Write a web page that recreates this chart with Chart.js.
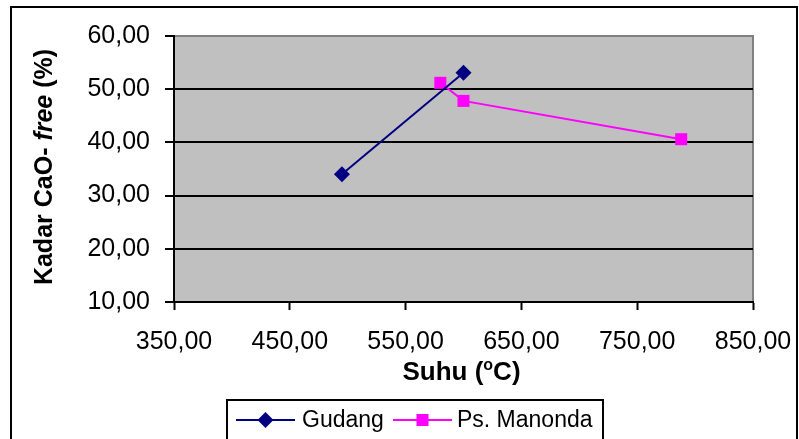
<!DOCTYPE html>
<html lang="id">
<head>
<meta charset="UTF-8">
<title>Kadar CaO-free vs Suhu</title>
<script src="https://cdn.jsdelivr.net/npm/chart.js"></script>
<style>
  body { margin: 0; padding: 0; background: #fff; }
  .chart-box { position: relative; width: 799px; height: 439px; }
</style>
</head>
<body>
<div class="chart-box"><canvas id="kadarChart"></canvas></div>
<script>
// values
var gudangSuhu = [495, 600];
var gudangKadar = [34.0, 53.1];
var manondaSuhu = [580, 600, 788];
var manondaKadar = [51.2, 47.8, 40.6];
var seriesNames = ['Gudang', 'Ps. Manonda'];
var xTicks = [350, 450, 550, 650, 750, 850];
var yTicks = [10, 20, 30, 40, 50, 60];

var FONT = '"Liberation Sans", Arial, sans-serif';

function toPoints(xs, ys) {
    return xs.map(function(x, i) { return { x: x, y: ys[i] }; });
}
function komma(v) {
    return Number(v).toFixed(2).replace('.', ',');
}

function drawMarker(ctx, style, r, x, y, color) {
    ctx.save();
    ctx.fillStyle = color;
    ctx.beginPath();
    if (style === 'rectRot') {
        ctx.moveTo(x, y - r); ctx.lineTo(x + r, y); ctx.lineTo(x, y + r); ctx.lineTo(x - r, y);
        ctx.closePath();
    } else {
        var s = r * Math.SQRT1_2;
        ctx.rect(x - s, y - s, 2 * s, 2 * s);
    }
    ctx.fill();
    ctx.restore();
}

// background, outer frame and the grey plot area
var framePlugin = {
    id: 'frame',
    beforeDraw: function(chart) {
        var ctx = chart.ctx, a = chart.chartArea;
        ctx.save();
        ctx.fillStyle = '#fff';
        ctx.fillRect(0, 0, chart.width, chart.height);
        ctx.strokeStyle = '#000';
        ctx.lineWidth = 2;
        ctx.strokeRect(11, 7, 786, 460);
        ctx.fillStyle = '#c0c0c0';
        ctx.fillRect(a.left, a.top, a.right - a.left, a.bottom - a.top);
        ctx.strokeStyle = '#808080';
        ctx.strokeRect(a.left, a.top, a.right - a.left, a.bottom - a.top);
        ctx.restore();
    },
    afterDraw: function(chart) {
        var ctx = chart.ctx, a = chart.chartArea;
        ctx.save();
        ctx.fillStyle = '#000';

        // y title, "free" in italic
        var parts = [['Kadar CaO- ', 'bold 25px '], ['free', 'italic bold 25px '], [' (%)', 'bold 25px ']];
        var total = 0;
        parts.forEach(function(p) { ctx.font = p[1] + FONT; total += ctx.measureText(p[0]).width; });
        ctx.translate(52, (a.top + a.bottom) / 2 - 2);
        ctx.rotate(-Math.PI / 2);
        ctx.textBaseline = 'alphabetic';
        var px = -total / 2;
        parts.forEach(function(p) {
            ctx.font = p[1] + FONT;
            ctx.fillText(p[0], px, 0);
            px += ctx.measureText(p[0]).width;
        });
        ctx.setTransform(1, 0, 0, 1, 0, 0);

        // x title with superscript o
        var xs = [['Suhu (', 'bold 26px ', 0], ['o', 'bold 16px ', -10], ['C)', 'bold 26px ', 0]];
        total = 0;
        xs.forEach(function(p) { ctx.font = p[1] + FONT; total += ctx.measureText(p[0]).width; });
        px = (a.left + a.right) / 2 - 2 - total / 2;
        xs.forEach(function(p) {
            ctx.font = p[1] + FONT;
            ctx.fillText(p[0], px, 380 + p[2]);
            px += ctx.measureText(p[0]).width;
        });

        // legend
        ctx.strokeStyle = '#000';
        ctx.lineWidth = 2;
        ctx.strokeRect(227, 400, 376, 60);
        var items = [{ x: 236, tx: 302 }, { x: 393, tx: 457 }];
        ctx.font = '23px ' + FONT;
        ctx.textBaseline = 'middle';
        chart.data.datasets.forEach(function(ds, i) {
            var it = items[i], ly = 420;
            ctx.strokeStyle = ds.borderColor;
            ctx.lineWidth = 2;
            ctx.beginPath();
            ctx.moveTo(it.x, ly); ctx.lineTo(it.x + 59, ly);
            ctx.stroke();
            drawMarker(ctx, ds.pointStyle, ds.pointRadius, it.x + 29.5, ly, ds.backgroundColor);
            ctx.fillStyle = '#000';
            ctx.fillText(ds.label, it.tx, ly + 1);
        });
        ctx.restore();
    }
};

var ctx = document.getElementById('kadarChart').getContext('2d');
new Chart(ctx, {
    type: 'scatter',
    data: {
        datasets: [{
            label: seriesNames[0],
            data: toPoints(gudangSuhu, gudangKadar),
            showLine: true,
            borderColor: '#000080',
            backgroundColor: '#000080',
            borderWidth: 2,
            pointStyle: 'rectRot',
            pointRadius: 8,
            pointBorderWidth: 0
        }, {
            label: seriesNames[1],
            data: toPoints(manondaSuhu, manondaKadar),
            showLine: true,
            borderColor: '#ff00ff',
            backgroundColor: '#ff00ff',
            borderWidth: 2,
            pointStyle: 'rect',
            pointRadius: 8.5,
            pointBorderWidth: 0
        }]
    },
    options: {
        responsive: true,
        maintainAspectRatio: false,
        animation: false,
        layout: { padding: { left: 0, top: 36, right: 46, bottom: 0 } },
        plugins: {
            legend: { display: false },
            tooltip: { enabled: false }
        },
        scales: {
            x: {
                type: 'linear',
                min: xTicks[0],
                max: xTicks[xTicks.length - 1],
                afterFit: function(s) { s.height = 137; s.paddingLeft = 0; s.paddingRight = 0; },
                afterBuildTicks: function(s) { s.ticks = xTicks.map(function(v) { return { value: v }; }); },
                border: { color: '#000', width: 2 },
                grid: { drawOnChartArea: false, drawTicks: true, tickLength: 8, tickColor: '#000', tickWidth: 2 },
                ticks: {
                    autoSkip: false,
                    maxRotation: 0,
                    padding: 17,
                    color: '#000',
                    font: { family: FONT, size: 25 },
                    callback: komma
                }
            },
            y: {
                type: 'linear',
                min: yTicks[0],
                max: yTicks[yTicks.length - 1],
                afterFit: function(s) { s.width = 174; s.paddingTop = 0; s.paddingBottom = 0; },
                afterBuildTicks: function(s) { s.ticks = yTicks.map(function(v) { return { value: v }; }); },
                border: { color: '#000', width: 2 },
                grid: {
                    color: function(c) { return c.tick && c.tick.value === 60 ? '#808080' : '#000'; },
                    lineWidth: 2,
                    drawTicks: true,
                    tickLength: 9,
                    tickColor: '#000',
                    tickWidth: 2
                },
                ticks: {
                    padding: 15,
                    color: '#000',
                    font: { family: FONT, size: 25 },
                    callback: komma
                }
            }
        }
    },
    plugins: [framePlugin]
});
</script>
</body>
</html>
